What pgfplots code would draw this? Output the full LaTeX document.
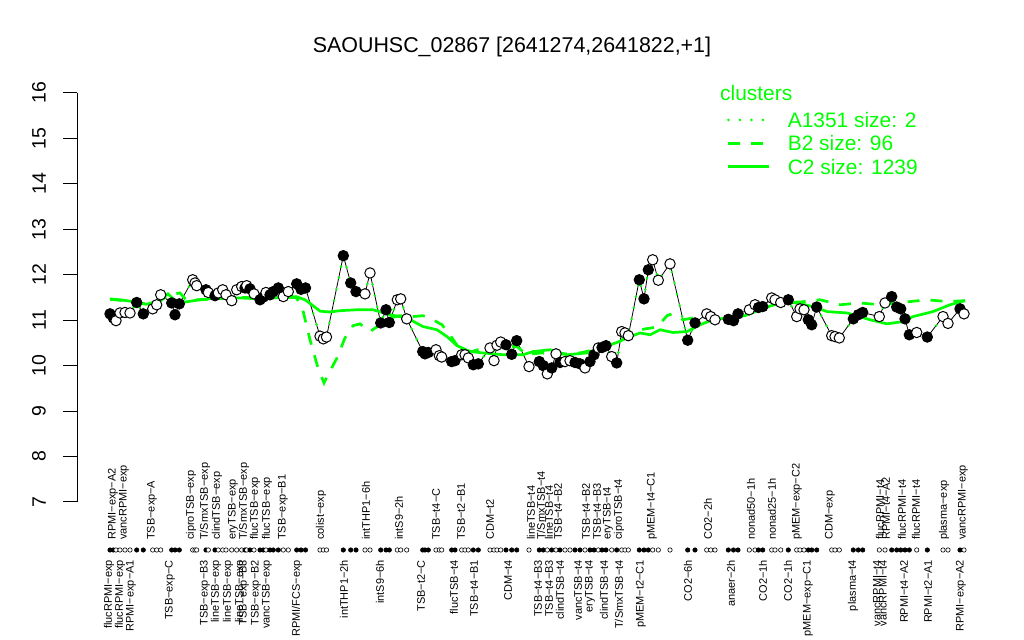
\documentclass[border=0pt]{standalone}
\usepackage{pgfplots}
\pgfplotsset{compat=1.18}
\usepackage{pgfplotstable}
\usepackage{fontspec}
\setmainfont{Liberation Sans}
\definecolor{rgreen}{RGB}{0,255,0}

\pgfplotstableread{
x y f
110 11.14 f
113.3 11.05 f
116 10.99 o
120 11.16 o
125 11.17 o
130 11.16 o
136.7 11.39 f
143.3 11.14 f
152.7 11.25 o
156.7 11.34 o
160.7 11.56 o
171.7 11.38 f
175 11.12 f
179.3 11.36 f
192.7 11.89 o
195 11.82 o
196.7 11.76 o
206 11.67 f
208.3 11.61 o
215 11.54 f
218.3 11.60 o
222.7 11.67 o
226 11.56 o
231.7 11.43 o
236.7 11.67 o
241.7 11.74 o
245 11.71 f
246.7 11.76 o
250 11.69 f
254 11.58 o
260 11.45 f
263.3 11.51 f
266 11.61 o
270 11.56 f
273.3 11.63 f
278.3 11.71 f
283.3 11.52 o
288.3 11.63 o
296.7 11.80 f
301 11.68 f
305.5 11.71 f
320 10.65 o
323.3 10.59 o
326.5 10.63 o
343.3 12.42 f
350.7 11.82 f
356 11.63 f
365 11.58 o
370 12.04 o
380.7 10.94 f
386 11.23 f
389.3 10.95 f
397.3 11.45 o
400.7 11.47 o
406.7 11.03 o
422.7 10.31 f
425 10.26 f
428.3 10.29 f
436 10.35 o
439.3 10.22 o
441.7 10.19 o
451.7 10.09 f
455 10.11 f
461.7 10.24 o
465 10.24 o
468.3 10.17 o
473.3 10.02 f
478.3 10.04 f
490 10.39 o
494 10.11 o
497 10.45 o
500.7 10.52 o
506 10.46 f
511.7 10.25 f
516.7 10.55 f
529 9.98 o
539.3 10.09 f
543.3 10.00 f
547.3 9.82 o
551.7 9.95 f
556 10.26 o
560 10.07 f
565 10.09 o
570 10.11 o
575 10.07 f
580 10.04 f
585 9.95 o
590 10.09 f
594 10.24 f
598.3 10.39 o
602 10.40 f
606 10.44 f
611.7 10.20 o
616.7 10.06 f
621.7 10.75 o
625 10.72 o
628.3 10.66 o
639.3 11.89 f
644 11.47 f
648.3 12.11 f
652.7 12.33 o
658.3 11.88 o
670 12.24 o
687.7 10.56 f
695 10.94 f
706.7 11.14 o
710.7 11.08 o
715 11.01 o
728.3 11.02 f
733.5 10.99 f
738 11.14 f
749.3 11.23 o
755 11.34 o
758.5 11.28 f
762.7 11.30 f
771.7 11.49 o
775 11.45 o
780.7 11.39 o
788.3 11.45 f
796.7 11.08 o
800 11.25 o
804 11.23 o
808.3 11.01 f
811.7 10.90 f
816.7 11.29 f
831.7 10.66 o
835 10.64 o
839.3 10.61 o
853.3 11.03 f
858.3 11.12 f
862.7 11.17 f
879.3 11.08 o
885 11.38 o
891.7 11.52 f
896.7 11.29 f
900.7 11.25 f
905 11.03 f
909.3 10.68 f
916.7 10.73 o
927.3 10.63 f
943 11.08 o
948 10.93 o
960 11.25 f
964 11.14 o
}\expdata

\pgfplotstableread{
x y
110 11.47
120 11.45
133 11.41
146 11.35
158 11.42
168 11.58
174 11.45
185 11.40
200 11.45
220 11.50
240 11.49
260 11.47
280 11.50
296 11.52
305 11.45
313 11.32
320 11.20
330 11.18
340 11.21
357 11.23
373 11.23
390 11.12
407 11.05
423 10.86
437 10.79
447 10.64
457 10.44
470 10.31
483 10.28
503 10.24
523 10.24
533 10.31
550 10.35
567 10.24
587 10.28
600 10.39
617 10.51
627 10.61
640 10.72
650 10.68
660 10.79
673 10.73
687 10.75
700 10.90
713 11.01
733 11.07
745 11.10
760 11.23
780 11.39
797 11.38
813 11.30
827 11.19
847 11.16
870 11.01
887 10.92
903 10.97
913 11.08
933 11.19
950 11.34
965 11.43
}\clusterC

\pgfplotstableread{
x y
110 11.46
133 11.41
146 11.36
160 11.42
168 11.55
180 11.60
186 11.45
200 11.45
240 11.50
280 11.50
296 11.50
302 11.30
310 10.57
318 9.95
324 9.62
328 9.80
337 10.17
345 10.61
353 10.88
360 10.92
370 10.75
380 10.90
390 11.05
400 11.10
413 11.08
423 11.10
433 11.01
442 10.90
450 10.68
460 10.35
472 10.31
483 10.39
497 10.42
517 10.42
527 10.24
540 10.28
560 10.25
580 10.28
600 10.38
617 10.50
627 10.64
640 10.79
657 10.85
667 11.10
672 11.14
683 11.01
693 11.05
713 11.07
733 11.08
760 11.23
780 11.39
800 11.40
820 11.45
840 11.34
860 11.38
880 11.34
910 11.41
927 11.45
947 11.41
965 11.43
}\clusterB

\newcommand{\toplab}[2]{\node[rotate=90, anchor=west, inner sep=0pt, font=\fontsize{11}{11}\selectfont] at (axis cs:#1,6.164) {#2};}
\newcommand{\botlab}[2]{\node[rotate=90, anchor=east, inner sep=0pt, font=\fontsize{11}{11}\selectfont] at (axis cs:#1,5.724) {#2};}

\begin{document}
\begin{tikzpicture}
\path[use as bounding box] (0,0) rectangle (1024bp,640bp);
\fill[white] (0,0) rectangle (1024bp,640bp);
\begin{axis}[
  at={(77bp,138bp)}, anchor=south west, scale only axis,
  width=908bp, height=409bp,
  xmin=77, xmax=985, ymin=7, ymax=16,
  clip=false,
  axis x line=none, axis y line*=left,
  y axis line style={line width=1bp, black},
  ytick={7,8,...,16}, tick align=outside, major tick length=14bp,
  ytick style={line width=1bp, black},
  yticklabel style={xshift=-17bp, rotate=90, anchor=south, inner sep=0pt, font=\fontsize{19.5}{19.5}\selectfont},
  /pgf/number format/assume math mode=true,
  legend style={at={(axis cs:727,15.663)}, anchor=north west, draw=none, fill=none,
    inner sep=0pt, outer sep=0pt, row sep=0pt, column sep=0pt,
    font=\fontsize{21}{21}\selectfont, text=rgreen,
    nodes={text height=15bp, text depth=0pt, inner ysep=4.15bp, inner xsep=0pt, anchor=west}},
  legend cell align=left,
  legend image code/.code={\draw[#1] (0bp,0bp) -- (41bp,0bp); \path (58bp,0bp);},
]
% black connecting line
\addplot[black, line width=0.8bp, no markers, forget plot] table[x=x,y=y] {\expdata};
% A1351 (dotted, follows profile)
\addplot[rgreen, line width=2.8bp, line cap=round, dash pattern=on 0bp off 11.5bp, no markers] table[x=x,y=y] {\expdata};
\addlegendentry{A1351 size: 2}
% B2 dashed
\addplot[rgreen, line width=2.7bp, dash pattern=on 12bp off 11bp, no markers] table[x=x,y=y] {\clusterB};
\addlegendentry{B2 size: 96}
% C2 solid
\addplot[rgreen, line width=2.7bp, no markers] table[x=x,y=y] {\clusterC};
\addlegendentry{C2 size: 1239}
% markers
\addplot[scatter, only marks, point meta=explicit symbolic, forget plot,
  scatter/classes={f={mark=*, draw=black, fill=black, line width=1bp, mark size=5.2bp},
                   o={mark=*, draw=black, fill=white, line width=1bp, mark size=5.2bp}}]
  table[x=x,y=y,meta=f] {\expdata};
% sample dot row
\addplot[scatter, only marks, point meta=explicit symbolic, forget plot,
  scatter/classes={f={mark=*, draw=black, fill=black, line width=0.6bp, mark size=2.2bp},
                   o={mark=*, draw=black, fill=white, line width=0.6bp, mark size=2.2bp}}]
  table[x=x,y expr=5.944,meta=f] {\expdata};

% title and legend heading
\node[font=\fontsize{21.5}{24}\selectfont] at (axis cs:512,17.01) {SAOUHSC\_02867 [2641274,2641822,+1]};
\node[anchor=west, inner sep=0pt, font=\fontsize{21}{21}\selectfont, text=rgreen] at (axis cs:720,16.0) {clusters};

% top labels
\toplab{113}{RPMI−exp−A2}
\toplab{124}{vancRPMI−exp}
\toplab{152}{TSB−exp−A}
\toplab{191}{ciproTSB−exp}
\toplab{205}{T/SmxTSB−exp}
\toplab{217}{clindTSB−exp}
\toplab{233}{eryTSB−exp}
\toplab{244}{T/SmxTSB−exp}
\toplab{255}{flucTSB−exp}
\toplab{267}{flucTSB−exp}
\toplab{283}{TSB−exp−B1}
\toplab{321}{colist−exp}
\toplab{366}{intTHP1−6h}
\toplab{399}{intS9−2h}
\toplab{436}{TSB−t4−C}
\toplab{461}{TSB−t2−B1}
\toplab{490}{CDM−t2}
\toplab{531}{lineTSB−t4}
\toplab{541}{T/SmxTSB−t4}
\toplab{549}{lineTSB−t4}
\toplab{558}{TSB−t4−B2}
\toplab{586}{TSB−t4−B2}
\toplab{597}{TSB−t4−B3}
\toplab{608}{eryTSB−t4}
\toplab{619}{ciproTSB−t4}
\toplab{652}{pMEM−t4−C1}
\toplab{708}{CO2−2h}
\toplab{751}{nonad50−1h}
\toplab{772}{nonad25−1h}
\toplab{797}{pMEM−exp−C2}
\toplab{830}{CDM−exp}
\toplab{880}{flucRPMI−t4}
\toplab{886}{RPMI−t4−A2}
\toplab{902}{flucRPMI−t4}
\toplab{916}{flucRPMI−t4}
\toplab{944}{plasma−exp}
\toplab{963}{vancRPMI−exp}
% bottom labels
\botlab{109}{flucRPMI−exp}
\botlab{120}{flucRPMI−exp}
\botlab{131}{RPMI−exp−A1}
\botlab{170}{TSB−exp−C}
\botlab{205}{TSB−exp−B3}
\botlab{216}{lineTSB−exp}
\botlab{228}{lineTSB−exp}
\botlab{240}{lineTSB−exp}
\botlab{244}{TSB−exp−B3}
\botlab{256}{TSB−exp−B2}
\botlab{267}{vancTSB−exp}
\botlab{297}{RPMI/FCS−exp}
\botlab{344}{intTHP1−2h}
\botlab{380}{intS9−6h}
\botlab{421}{TSB−t2−C}
\botlab{454}{flucTSB−t4}
\botlab{474}{TSB−t4−B1}
\botlab{508}{CDM−t4}
\botlab{538}{TSB−t4−B3}
\botlab{549}{TSB−t4−B3}
\botlab{560}{clindTSB−t4}
\botlab{578}{vancTSB−t4}
\botlab{590}{eryTSB−t4}
\botlab{604}{clindTSB−t4}
\botlab{619}{T/SmxTSB−t4}
\botlab{641}{pMEM−t2−C1}
\botlab{688}{CO2−6h}
\botlab{731}{anaer−2h}
\botlab{763}{CO2−1h}
\botlab{788}{CO2−1h}
\botlab{808}{pMEM−exp−C1}
\botlab{853}{plasma−t4}
\botlab{877}{vancRPMI−t4}
\botlab{883}{vancRPMI−t4}
\botlab{904}{RPMI−t4−A2}
\botlab{928}{RPMI−t2−A1}
\botlab{961}{RPMI−exp−A2}
\end{axis}
\end{tikzpicture}
\end{document}
